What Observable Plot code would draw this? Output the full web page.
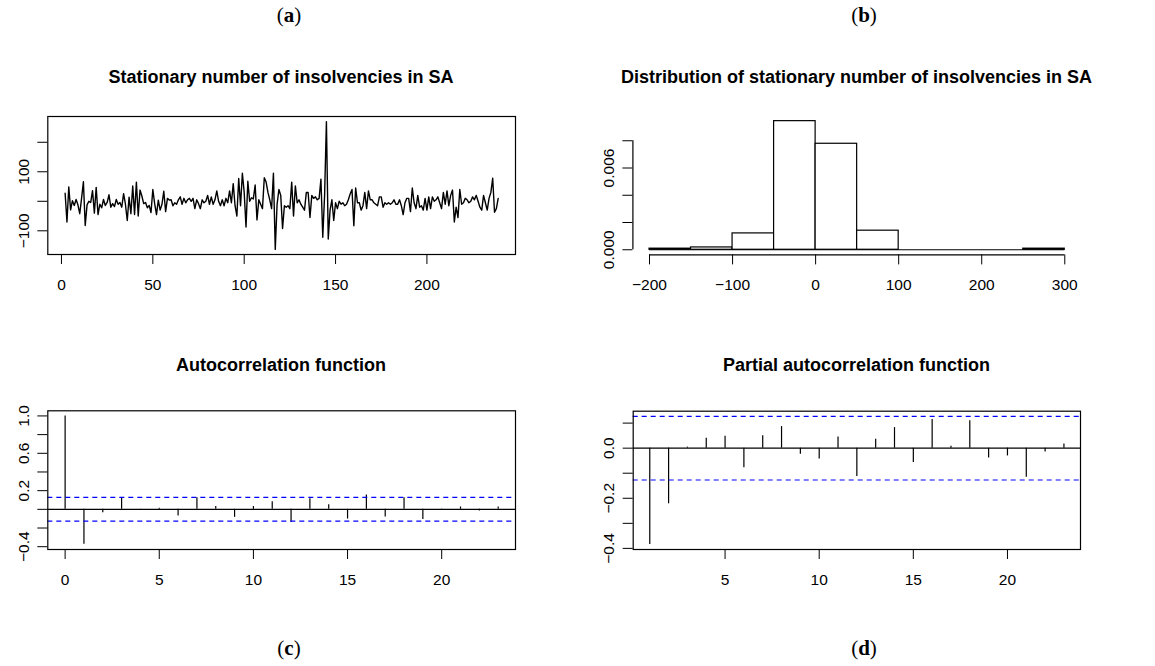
<!DOCTYPE html>
<html>
<head>
<meta charset="utf-8">
<script src="https://cdn.jsdelivr.net/npm/d3@7"></script>
<script src="https://cdn.jsdelivr.net/npm/@observablehq/plot@0.6"></script>
<style>
  body { margin: 0; background: #fff; }
  #fig { position: relative; width: 1155px; height: 666px; background: #fff; font-family: "Liberation Sans", Arial, sans-serif; }
  .tag { position: absolute; transform: translate(-50%, -50%); font-family: "Liberation Serif", "DejaVu Serif", serif; font-size: 21px; color: #000; white-space: nowrap; }
  .ttl { position: absolute; transform: translate(-50%, -50%); font-family: "Liberation Sans", Arial, sans-serif; font-weight: bold; font-size: 18px; color: #000; white-space: nowrap; }
</style>
</head>
<body>
<div id="fig"></div>
<script>
// ---- (a) stationary number of insolvencies, t = 2 … 239 ----
const seriesStart = 2;
const seriesValues = [
  27, -70, 49, -29, 2, -14, 6, -12, -42, 10,
  66, -82, -12, 0, -4, 36, -40, 47, -45, -10,
  -22, 6, -14, -4, 22, -20, -8, -18, 6, -10,
  -4, -20, 26, -10, -65, 14, -42, 52, -45, 65,
  -50, 38, 18, -8, -4, -22, -14, -38, 40, -8,
  -45, 4, -30, -10, 34, -35, 10, 4, 5, -15,
  -5, -10, 5, 15, -10, 10, -5, 5, 10, 0,
  10, -25, 5, -8, -25, 5, -5, 0, 20, -10,
  15, -10, 5, 35, 0, -15, 5, -15, 10, -5,
  35, -5, 60, -15, -50, 77, -15, 95, 30, -87,
  68, 0, 12, 8, 55, -63, 5, -10, -25, 80,
  65, 30, 5, -25, 95, -163, -10, 40, 20, -92,
  -15, -20, -15, -25, 65, -50, 52, -5, 5, -10,
  -20, -30, 30, 30, -55, 20, 10, 15, 5, 10,
  75, -122, 20, 270, -128, -30, 5, -65, -5, -25,
  0, -10, -5, -15, -10, 5, 25, 40, -83, 45,
  -5, -5, -30, -15, 30, -25, 35, 5, 5, -5,
  -10, -15, 15, 15, -20, -5, -10, -5, -10, -5,
  5, -10, -10, 5, -15, -45, -5, 10, 10, -35,
  45, -5, -25, 20, -20, -15, -30, 10, -30, 15,
  -25, 15, 0, 5, 15, -5, -25, 30, -10, 35,
  -15, 20, 38, -70, -20, -55, 40, -10, -5, 10,
  5, -5, 0, 15, 5, 20, 0, -20, -30, 20,
  -5, -30, 10, 30, 78, -37, -25, 10
];
const seriesXTicks = [0, 50, 100, 150, 200];
const seriesYTicks = [-100, 0, 100, 200];
const seriesYLabels = [-100, 100];

// ---- (b) histogram on the density scale, bins of width 50 ----
const histBreaks = [-200, -150, -100, -50, 0, 50, 100, 150, 200, 250, 300];
const histDensity = [0.00008, 0.00017, 0.0012, 0.00944, 0.00778, 0.0014, 0, 0, 0, 0.00008];
const histXTicks = [-200, -100, 0, 100, 200, 300];
const histYTicks = [0, 0.002, 0.004, 0.006, 0.008];
const histYLabels = [0, 0.006];

// ---- (c) autocorrelation, lags 0 … 23 ----
const acfValues = [1.0, -0.375, -0.036, 0.125, -0.007, 0.012, -0.07, 0.125, 0.03, -0.086, 0.03, 0.08,
  -0.14, 0.114, 0.05, -0.104, 0.154, -0.082, 0.125, -0.11, 0.004, 0.025, -0.018, 0.025];
const acfXTicks = [0, 5, 10, 15, 20];
const acfYTicks = [-0.4, -0.2, 0, 0.2, 0.4, 0.6, 0.8, 1.0];
const acfYLabels = [-0.4, 0.2, 0.6, 1.0];

// ---- (d) partial autocorrelation, lags 1 … 23 ----
const pacfValues = [-0.384, -0.222, 0.004, 0.04, 0.048, -0.078, 0.05, 0.086, -0.024, -0.043, 0.045, -0.113,
  0.036, 0.082, -0.057, 0.114, 0.008, 0.109, -0.039, -0.031, -0.116, -0.015, 0.017];
const pacfXTicks = [5, 10, 15, 20];
const pacfYTicks = [-0.4, -0.3, -0.2, -0.1, 0, 0.1];
const pacfYLabels = [-0.4, -0.2, 0];

// ---- derived tables ----
const series = seriesValues.map((v, i) => ({t: seriesStart + i, v}));
const bins = histDensity.map((d, i) => ({x1: histBreaks[i], x2: histBreaks[i + 1], d}));
const acf = acfValues.map((r, lag) => ({lag, r}));
const pacf = pacfValues.map((r, i) => ({lag: i + 1, r}));
const ciBound = 1.96 / Math.sqrt(seriesValues.length);

// R-style 4% padding around a data range
const pad = (lo, hi) => { const d = (hi - lo) * 0.04; return [lo - d, hi + d]; };

const fig = document.getElementById("fig");
const TICK = 10;
const FONT = 15.5;

function place(el, left, top) {
  el.style.position = "absolute";
  el.style.left = left + "px";
  el.style.top = top + "px";
  fig.appendChild(el);
}

function panel({left, top, width, height, margins, x, y, marks}) {
  const [mt, mr, mb, ml] = margins;
  const svg = Plot.plot({
    width, height,
    marginTop: mt, marginRight: mr, marginBottom: mb, marginLeft: ml,
    x: {domain: x, label: null},
    y: {domain: y, label: null},
    style: {fontSize: FONT + "px", fontFamily: "Liberation Sans, Arial, sans-serif", color: "black", background: "transparent", overflow: "visible"},
    marks
  });
  place(svg, left, top);
}

function xAxis(ticks, fmt) {
  return Plot.axisX(ticks, {anchor: "bottom", tickSize: TICK, tickPadding: 14, fontSize: FONT, tickFormat: fmt, stroke: "black", fill: "black"});
}
function yAxis(ticks, labelled, fmt) {
  return Plot.axisY(ticks, {
    anchor: "left", tickSize: TICK, tickPadding: 9, tickRotate: -90, fontSize: FONT, stroke: "black", fill: "black",
    tickFormat: d => labelled.includes(d) ? fmt(d) : ""
  });
}

function addText(cls, html, cx, cy) {
  const div = document.createElement("div");
  div.className = cls;
  div.innerHTML = html;
  div.style.left = cx + "px";
  div.style.top = cy + "px";
  fig.appendChild(div);
}

const fmtInt = d3.format("d");
const fmt3 = d3.format(".3f");
const fmt1 = d3.format(".1f");

// (a) time series
panel({
  left: 0, top: 100, width: 560, height: 210, margins: [16, 45, 56, 47.3],
  x: pad(seriesStart, seriesStart + seriesValues.length - 1),
  y: pad(d3.min(seriesValues), d3.max(seriesValues)),
  marks: [
    Plot.line(series, {x: "t", y: "v", stroke: "black", strokeWidth: 1.4}),
    Plot.frame({stroke: "black", strokeWidth: 1.2}),
    xAxis(seriesXTicks, fmtInt),
    yAxis(seriesYTicks, seriesYLabels, fmtInt)
  ]
});

// (b) histogram
const maxDensity = d3.max(histDensity);
const histY = pad(0, maxDensity);
const histX = pad(histBreaks[0], histBreaks[histBreaks.length - 1]);
panel({
  left: 570, top: 100, width: 585, height: 210, margins: [15.5, 74.1, 55.6, 62.4],
  x: histX,
  y: histY,
  marks: [
    Plot.rectY(bins, {x1: "x1", x2: "x2", y: "d", fill: "white", stroke: "black", strokeWidth: 1.2, inset: 0}),
    Plot.ruleY([0], {x1: histBreaks[0], x2: histBreaks[histBreaks.length - 1], stroke: "black", strokeWidth: 1.2}),
    Plot.ruleY([histY[0]], {x1: histXTicks[0], x2: histXTicks[histXTicks.length - 1], stroke: "black", strokeWidth: 1.2}),
    Plot.ruleX([histX[0]], {y1: histYTicks[0], y2: histYTicks[histYTicks.length - 1], stroke: "black", strokeWidth: 1.2}),
    xAxis(histXTicks, fmtInt),
    yAxis(histYTicks, histYLabels, fmt3)
  ]
});

// (c) ACF
panel({
  left: 0, top: 390, width: 560, height: 220, margins: [20.3, 45, 61, 47.3],
  x: pad(0, acf.length - 1),
  y: pad(Math.min(d3.min(acfValues), -ciBound), Math.max(d3.max(acfValues), ciBound)),
  marks: [
    Plot.ruleX(acf, {x: "lag", y1: 0, y2: "r", stroke: "black", strokeWidth: 1.2}),
    Plot.ruleY([0], {stroke: "black", strokeWidth: 1.2}),
    Plot.ruleY([ciBound, -ciBound], {stroke: "#0000ff", strokeWidth: 1.2, strokeDasharray: "5,4"}),
    Plot.frame({stroke: "black", strokeWidth: 1.2}),
    xAxis(acfXTicks, fmtInt),
    yAxis(acfYTicks, acfYLabels, fmt1)
  ]
});

// (d) PACF
panel({
  left: 570, top: 390, width: 585, height: 220, margins: [20.7, 75, 61, 62.7],
  x: pad(1, pacf.length),
  y: pad(Math.min(d3.min(pacfValues), -ciBound), Math.max(d3.max(pacfValues), ciBound)),
  marks: [
    Plot.ruleX(pacf, {x: "lag", y1: 0, y2: "r", stroke: "black", strokeWidth: 1.2}),
    Plot.ruleY([0], {stroke: "black", strokeWidth: 1.2}),
    Plot.ruleY([ciBound, -ciBound], {stroke: "#0000ff", strokeWidth: 1.2, strokeDasharray: "5,4"}),
    Plot.frame({stroke: "black", strokeWidth: 1.2}),
    xAxis(pacfXTicks, fmtInt),
    yAxis(pacfYTicks, pacfYLabels, fmt1)
  ]
});

// panel titles and sub-figure tags
addText("ttl", "Stationary number of insolvencies in SA", 281, 77);
addText("ttl", "Distribution of stationary number of insolvencies in SA", 856.5, 77);
addText("ttl", "Autocorrelation function", 281, 365);
addText("ttl", "Partial autocorrelation function", 856.5, 365);
addText("tag", "(<b>a</b>)", 289, 15);
addText("tag", "(<b>b</b>)", 864, 15);
addText("tag", "(<b>c</b>)", 289, 648);
addText("tag", "(<b>d</b>)", 864, 648);
</script>
</body>
</html>
